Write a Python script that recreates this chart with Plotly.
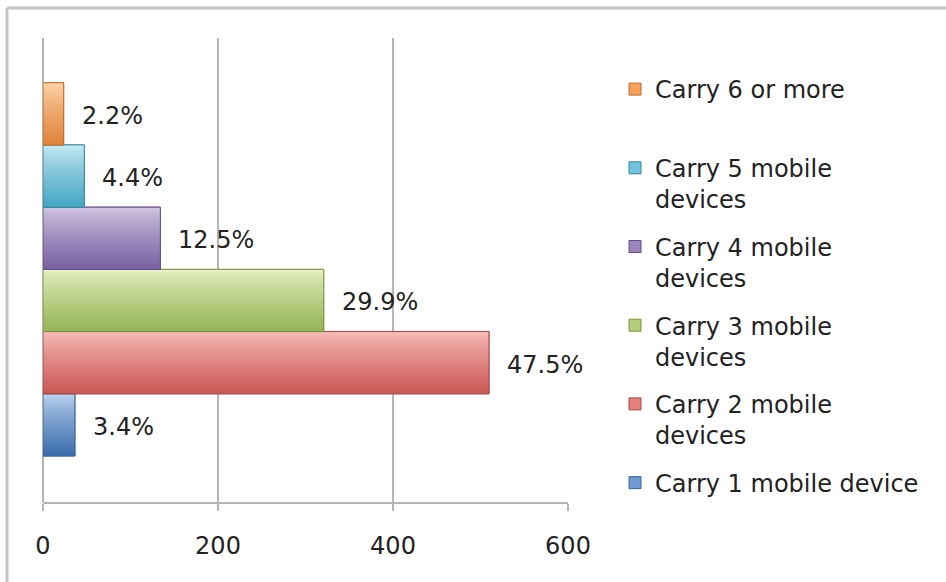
import plotly.graph_objects as go

# Survey: how many mobile devices respondents carry
categories = [
    "Carry 1 mobile device",
    "Carry 2 mobile<br>devices",
    "Carry 3 mobile<br>devices",
    "Carry 4 mobile<br>devices",
    "Carry 5 mobile<br>devices",
    "Carry 6 or more<br> ",
]
percentages = [3.4, 47.5, 29.9, 12.5, 4.4, 2.2]
total_respondents = 1073
colors = ["#6E9AD0", "#E5807D", "#B3CD7C", "#9A86BC", "#72C4DE", "#F4A25C"]
top_colors = ["#BCD3EE", "#F8BCBA", "#E6F0C4", "#D0C6E2", "#C6E9F4", "#FCD3A8"]
bottom_colors = ["#3E70AE", "#CC5A56", "#96B656", "#7A62A2", "#46A6C4", "#E0843A"]
edge_colors = ["#3A649A", "#A94744", "#7A9642", "#614E86", "#35879F", "#BE6E2C"]
x_ticks = [0, 200, 400, 600]

FONT = "DejaVu Sans"
W, H = 946, 582
M_L, M_R, M_T, M_B = 43, 378, 38, 80
plot_w = W - M_L - M_R
plot_h = H - M_T - M_B
N_BANDS = 24


def px_x(px):
    return (px - M_L) / plot_w


def px_y(py):
    return (H - M_B - py) / plot_h


def mix(c1, c2, t):
    a = [int(c1[j:j + 2], 16) for j in (1, 3, 5)]
    b = [int(c2[j:j + 2], 16) for j in (1, 3, 5)]
    return "#" + "".join(f"{round(p + (q - p) * t):02X}" for p, q in zip(a, b))


fig = go.Figure()
n = len(categories)
for i, (name, pct) in enumerate(zip(categories, percentages)):
    count = pct * total_respondents / 100
    rank = (n - i) * 10  # top bar first in the legend
    # base bar (also provides the legend swatch)
    fig.add_trace(go.Bar(
        x=[count], y=[i], orientation="h", width=1,
        name=name, legendgroup=str(i), legendrank=rank,
        marker=dict(color=colors[i], line=dict(color=edge_colors[i], width=1)),
        hoverinfo="skip",
    ))
    # vertical shading: light at the top, darker towards the bottom
    for k in range(N_BANDS):
        t = k / (N_BANDS - 1)
        top = 0.5 - k / N_BANDS
        bottom = max(-0.5, top - 1.5 / N_BANDS)
        fig.add_trace(go.Bar(
            x=[count], y=[i], orientation="h",
            width=top - bottom, offset=bottom,
            legendgroup=str(i), legendrank=rank, showlegend=False,
            marker=dict(color=mix(top_colors[i], bottom_colors[i], t ** 0.8),
                        line=dict(width=0)),
            hoverinfo="skip",
        ))
    # outline on top of the shading
    fig.add_trace(go.Bar(
        x=[count], y=[i], orientation="h", width=1,
        legendgroup=str(i), legendrank=rank, showlegend=False,
        marker=dict(color="rgba(0,0,0,0)", line=dict(color=edge_colors[i], width=1)),
        hoverinfo="skip",
    ))
    fig.add_annotation(
        x=count, y=i, text=f"{pct}%", showarrow=False,
        xanchor="left", yanchor="middle", xshift=16, yshift=-2,
        font=dict(family=FONT, size=24, color="#222222"),
    )

# chart frame (top and left edges)
frame = dict(color="#C3C3C3", width=3)
fig.add_shape(type="line", xref="paper", yref="paper",
              x0=px_x(7), x1=px_x(W + 5), y0=px_y(8), y1=px_y(8), line=frame)
fig.add_shape(type="line", xref="paper", yref="paper",
              x0=px_x(7), x1=px_x(7), y0=px_y(8), y1=px_y(H + 5), line=frame)

fig.update_layout(
    width=W, height=H,
    margin=dict(l=M_L, r=M_R, t=M_T, b=M_B),
    paper_bgcolor="white", plot_bgcolor="white",
    barmode="overlay",
    font=dict(family=FONT, size=24, color="#222222"),
    showlegend=True,
    legend=dict(
        x=px_x(615), y=px_y(67), xanchor="left", yanchor="top",
        traceorder="grouped", valign="top", tracegroupgap=13.3,
        font=dict(family=FONT, size=24, color="#222222"),
        bgcolor="rgba(0,0,0,0)",
    ),
    xaxis=dict(
        range=[0, 600], tickvals=x_ticks, ticktext=[str(v) for v in x_ticks],
        showgrid=True, gridcolor="#B5B5B5", gridwidth=1.5,
        zeroline=True, zerolinecolor="#B5B5B5", zerolinewidth=1.5,
        showline=True, linecolor="#B5B5B5", linewidth=1.5,
        ticks="outside", ticklen=7, tickcolor="#B5B5B5", tickwidth=1.5,
        ticklabelstandoff=14,
        tickfont=dict(family=FONT, size=24, color="#222222"),
        fixedrange=True,
    ),
    yaxis=dict(
        range=[-1.24, 6.22], showticklabels=False, showgrid=False,
        zeroline=False, showline=False, fixedrange=True,
    ),
)

fig.write_html("out.html")
